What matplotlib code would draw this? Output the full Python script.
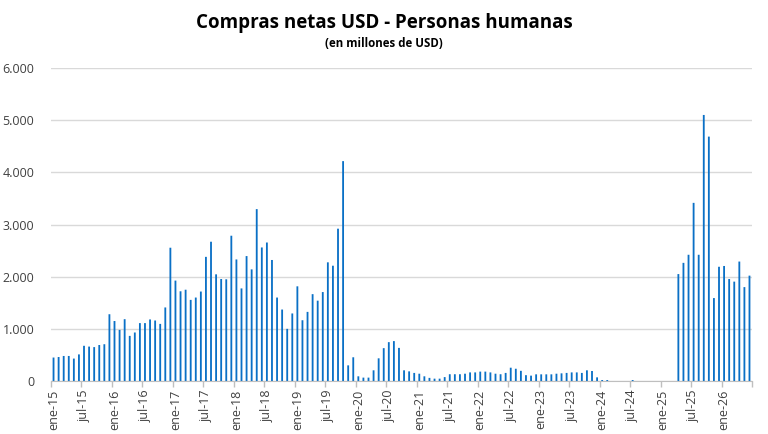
import numpy as np
import matplotlib
matplotlib.use("Agg")
import matplotlib.pyplot as plt
from matplotlib.ticker import FuncFormatter

plt.rcParams['font.family'] = ['Open Sans', 'DejaVu Sans']

# monthly net USD purchases, millions, from ene-15
years = ["15", "16", "17", "18", "19", "20", "21", "22", "23", "24", "25", "26"]
meses = ["ene", "feb", "mar", "abr", "may", "jun", "jul", "ago", "sep", "oct", "nov", "dic"]

v2015 = [450, 460, 480, 480, 430, 510, 675, 660, 650, 690, 705, 1280]
v2016 = [1150, 980, 1185, 865, 930, 1110, 1110, 1180, 1160, 1095, 1410, 2555]
v2017 = [1925, 1720, 1750, 1555, 1600, 1715, 2380, 2670, 2045, 1955, 1950, 2785]
v2018 = [2330, 1775, 2395, 2140, 3295, 2560, 2655, 2320, 1600, 1370, 1000, 1295]
v2019 = [1815, 1165, 1325, 1665, 1540, 1705, 2275, 2210, 2920, 4215, 300, 455]
v2020 = [90, 65, 65, 205, 435, 630, 745, 765, 635, 205, 185, 155]
v2021 = [140, 90, 60, 45, 45, 75, 130, 130, 130, 140, 165, 165]
v2022 = [180, 180, 165, 140, 130, 155, 255, 235, 195, 112, 103, 128]
v2023 = [128, 128, 128, 140, 147, 155, 165, 165, 155, 205, 192, 70]
v2024 = [19, 19, 0, 0, 0, 0, 19, 0, 0, 0, 0, 0]
v2025 = [0, 0, 0, 2050, 2265, 2420, 3415, 2420, 5100, 4685, 1590, 2190]
v2026 = [2205, 1955, 1905, 2290, 1800, 2020]

values = v2015 + v2016 + v2017 + v2018 + v2019 + v2020 + v2021 + v2022 + v2023 + v2024 + v2025 + v2026
labels = [f"{m}-{y}" for y in years for m in meses][:len(values)]

fig = plt.figure(figsize=(7.68, 4.34), dpi=100)
ax = fig.add_axes([0.0664, 0.1221, 0.9128, 0.7212])

x = np.arange(len(values))
bars = ax.bar(x, values, width=0.36, color="#0a70c6", edgecolor="none", zorder=3)
for b in bars:
    b.set_snap(False)

ax.set_xlim(-0.5, len(values) - 0.5)
ax.set_ylim(0, 6000)
ax.set_yticks(np.arange(0, 6001, 1000))
ax.yaxis.set_major_formatter(FuncFormatter(lambda v, p: f"{int(v):,}".replace(",", ".")))
ax.grid(axis="y", color="#d9d9d9", linewidth=1.0, zorder=0)

# labels every 6 months, tick marks on category boundaries
lab_pos = x[::6]
ax.set_xticks(lab_pos)
ax.set_xticklabels([labels[i] for i in lab_pos], rotation=90)
ax.set_xticks(list(lab_pos - 0.5) + [len(values) - 0.5], minor=True)
ax.tick_params(axis="x", which="major", length=0, pad=6, labelsize=9, colors="#404040")
ax.tick_params(axis="x", which="minor", length=4, color="#bfbfbf", width=1)
ax.tick_params(axis="y", length=0, pad=12, labelsize=9, colors="#404040")

for s in ["top", "right", "left"]:
    ax.spines[s].set_visible(False)
ax.spines["bottom"].set_color("#bfbfbf")
ax.spines["bottom"].set_zorder(4)

fig.text(0.5, 0.948, "Compras netas USD - Personas humanas", ha="center", va="center",
         fontsize=13.5, fontweight="bold", color="#000000")
fig.text(0.5, 0.9, "(en millones de USD)", ha="center", va="center",
         fontsize=8.3, fontweight="bold", color="#000000")

fig.savefig("out.png", dpi=100)
